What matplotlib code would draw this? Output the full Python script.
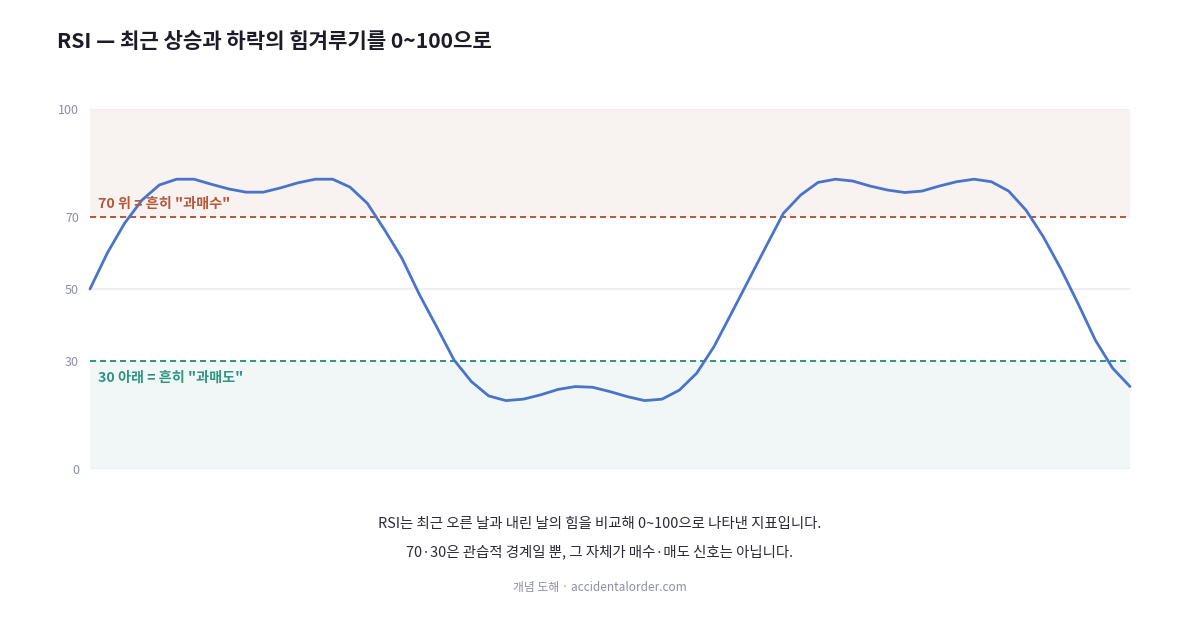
import matplotlib

matplotlib.use("Agg")

import matplotlib.pyplot as plt
import numpy as np

plt.rcParams["font.family"] = ["Noto Sans CJK KR", "DejaVu Sans"]
plt.rcParams["lines.scale_dashes"] = False

# RSI values, one per step (61 steps)
RSI = [
    50.0, 60.0, 68.3, 74.7, 78.9, 80.5, 80.5, 79.1, 77.8, 76.9,
    76.9, 78.1, 79.5, 80.5, 80.5, 78.3, 73.8, 66.4, 58.5, 48.5,
    39.5, 30.3, 24.3, 20.3, 19.0, 19.4, 20.6, 22.1, 22.9, 22.7,
    21.5, 20.1, 19.0, 19.4, 21.9, 26.6, 34.0, 43.2, 52.5, 61.8,
    71.0, 76.1, 79.6, 80.5, 80.0, 78.6, 77.5, 76.8, 77.2, 78.6,
    79.8, 80.5, 79.8, 77.2, 71.9, 64.5, 55.7, 46.0, 35.8, 28.0,
    22.9,
]
Y_TICKS = [0, 30, 50, 70, 100]
OVERBOUGHT = 70
OVERSOLD = 30

TITLE = "RSI — 최근 상승과 하락의 힘겨루기를 0~100으로"
LABEL_HI = '70 위 = 흔히 "과매수"'
LABEL_LO = '30 아래 = 흔히 "과매도"'
CAPTION_1 = "RSI는 최근 오른 날과 내린 날의 힘을 비교해 0~100으로 나타낸 지표입니다."
CAPTION_2 = "70·30은 관습적 경계일 뿐, 그 자체가 매수·매도 신호는 아닙니다."
FOOTER = "개념 도해 · accidentalorder.com"

HI_COLOR = "#b5583a"
LO_COLOR = "#2f9484"
LINE_COLOR = "#4a74c9"
TICK_COLOR = "#8a8fa3"

x = np.arange(len(RSI))

fig = plt.figure(figsize=(12, 6.3), dpi=100)
ax = fig.add_axes([90 / 1200, 161 / 630, 1040 / 1200, 360 / 630])

ax.set_xlim(x[0], x[-1])
ax.set_ylim(0, 100)

# zones
ax.axhspan(OVERBOUGHT, 100, color="#f8f2f0", lw=0, zorder=0)
ax.axhspan(0, OVERSOLD, color="#f1f7f7", lw=0, zorder=0)

# light grid at 0 / 50 / 100
for v in (0, 50, 100):
    ax.axhline(v, color="#ececf0", lw=1.2, zorder=1)

ax.axhline(OVERBOUGHT, color=HI_COLOR, lw=1.4, ls=(0, (4.4, 2.8)), zorder=2)
ax.axhline(OVERSOLD, color=LO_COLOR, lw=1.4, ls=(0, (4.4, 2.8)), zorder=2)

ax.plot(x, RSI, color=LINE_COLOR, lw=2.0, solid_joinstyle="round",
        solid_capstyle="round", zorder=3, clip_on=False)

ax.text(0.45, 73.6, LABEL_HI, color=HI_COLOR, fontsize=10.2,
        fontweight="bold", ha="left", va="center")
ax.text(0.45, 25.3, LABEL_LO, color=LO_COLOR, fontsize=10.2,
        fontweight="bold", ha="left", va="center")

ax.set_yticks(Y_TICKS)
ax.set_yticklabels([str(t) for t in Y_TICKS])
ax.tick_params(axis="y", length=0, pad=8, labelsize=9, labelcolor=TICK_COLOR)
ax.set_xticks([])
for s in ax.spines.values():
    s.set_visible(False)

fig.text(57 / 1200, 1 - 42 / 630, TITLE, fontsize=15.2, fontweight="bold",
         color="#1c1c28", ha="left", va="center")
fig.text(0.5, 1 - 524 / 630, CAPTION_1, fontsize=10.4, color="#2a2a33",
         ha="center", va="center")
fig.text(0.5, 1 - 552 / 630, CAPTION_2, fontsize=10.4, color="#2a2a33",
         ha="center", va="center")
fig.text(0.5, 1 - 587 / 630, FOOTER, fontsize=8.5, color="#8a8fa3",
         ha="center", va="center")

fig.savefig("out.png", dpi=100)
plt.close(fig)
